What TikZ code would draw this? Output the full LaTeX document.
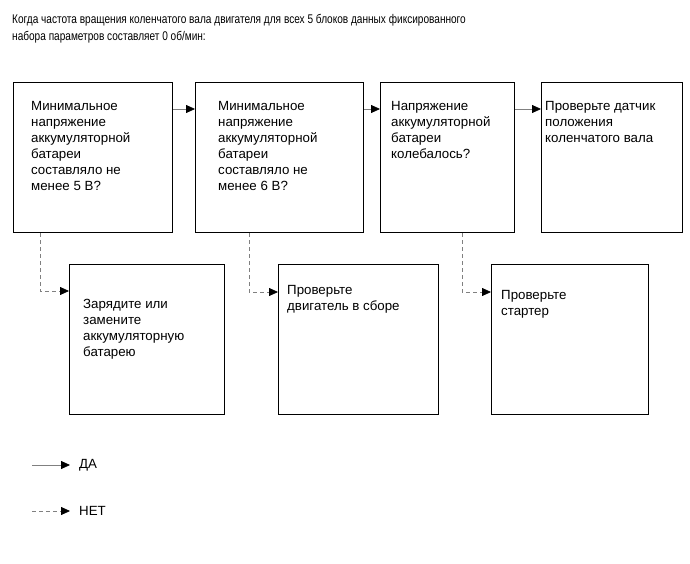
\documentclass[tikz,border=0pt]{standalone}
\usepackage{fontspec}
\setmainfont{Liberation Sans}
\newfontfamily\headfont[FakeStretch=0.8]{Liberation Sans}
\usetikzlibrary{arrows.meta}
\definecolor{linegray}{RGB}{128,128,128}
\tikzset{
  box/.style={draw=black, line width=1.1pt, anchor=north west, inner sep=0pt, minimum height=150pt},
  btext/.style={anchor=base west, inner sep=0pt, font=\fontsize{13.3}{16}\selectfont},
  head/.style={anchor=base west, inner sep=0pt, font=\headfont\fontsize{12.6}{17}\selectfont},
  tip/.style={-{Triangle[length=9pt,width=8pt,color=black]}},
  yes/.style={tip, draw=linegray, line width=0.8pt},
  no/.style={tip, draw=linegray, line width=0.8pt, dash pattern=on 4pt off 3pt},
}
\begin{document}
\begin{tikzpicture}[x=1pt,y=-1pt]
\useasboundingbox (0,0) rectangle (690,564);
\node[head] (h) at (12,24) {\parbox[t]{680pt}{Когда частота вращения коленчатого вала двигателя для всех 5 блоков данных фиксированного\\набора параметров составляет 0 об/мин:}};

\node[box, minimum width=159pt] (b1) at (13,82) {};
\node[box, minimum width=168pt] (b2) at (195,82) {};
\node[box, minimum width=134pt] (b3) at (380,82) {};
\node[box, minimum width=141pt] (b4) at (541,82) {};
\node[box, minimum width=155pt] (b5) at (69,264) {};
\node[box, minimum width=160pt] (b6) at (278,264) {};
\node[box, minimum width=157pt] (b7) at (491,264) {};

\node[btext] (t1) at (31,111) {\parbox[t]{140pt}{Минимальное\\напряжение\\аккумуляторной\\батареи\\составляло не\\менее 5 В?}};
\node[btext] (t2) at (218,111) {\parbox[t]{140pt}{Минимальное\\напряжение\\аккумуляторной\\батареи\\составляло не\\менее 6 В?}};
\node[btext] (t3) at (391,111) {\parbox[t]{120pt}{Напряжение\\аккумуляторной\\батареи\\колебалось?}};
\node[btext] (t4) at (545,111) {\parbox[t]{135pt}{Проверьте датчик\\положения\\коленчатого вала}};
\node[btext] (t5) at (83,308) {\parbox[t]{135pt}{Зарядите или\\замените\\аккумуляторную\\батарею}};
\node[btext] (t6) at (287,294) {\parbox[t]{145pt}{Проверьте\\двигатель в сборе}};
\node[btext] (t7) at (501,299) {\parbox[t]{140pt}{Проверьте\\стартер}};

\draw[yes] ([yshift=-27pt]b1.north east) -- ([yshift=-27pt]b2.north west);
\draw[yes] ([yshift=-27pt]b2.north east) -- ([yshift=-27pt]b3.north west);
\draw[yes] ([yshift=-27pt]b3.north east) -- ([yshift=-27pt]b4.north west);

\draw[no] ([xshift=27pt]b1.south west) |- ([yshift=-27pt]b5.north west);
\draw[no] ([xshift=54pt]b2.south west) |- ([yshift=-28pt]b6.north west);
\draw[no] ([xshift=82pt]b3.south west) |- ([yshift=-28pt]b7.north west);

\coordinate (l1) at (32,465);
\coordinate (l2) at (32,511);
\node[anchor=west, inner xsep=9pt, inner ysep=0pt, font=\fontsize{13.3}{16}\selectfont] (da) at (70,465) {ДА};
\node[anchor=west, inner xsep=9pt, inner ysep=0pt, font=\fontsize{13.3}{16}\selectfont] (net) at (70,511) {НЕТ};
\draw[yes] (l1) -- (da.west);
\draw[no] (l2) -- (net.west);
\end{tikzpicture}
\end{document}
